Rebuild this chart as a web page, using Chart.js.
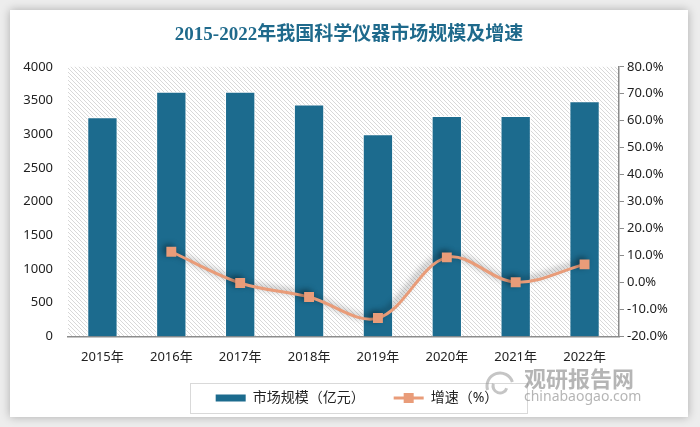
<!DOCTYPE html>
<html>
<head>
<meta charset="utf-8">
<script src="https://cdn.jsdelivr.net/npm/chart.js@4.4.1/dist/chart.umd.min.js"></script>
<style>
    html, body { margin: 0; padding: 0; background: #ededed; }
    body { width: 700px; height: 427px; position: relative; overflow: hidden; }
    #card {
        position: absolute; left: 10px; top: 10px; width: 678px; height: 407px;
        background: #fff; box-shadow: 0 0 9px rgba(0,0,0,0.28);
    }
    canvas { display: block; }
</style>
</head>
<body>
<div id="card"><canvas id="chart-size" width="678" height="407"></canvas></div>
<script>
//************ Data */
const years = ['2015年', '2016年', '2017年', '2018年', '2019年', '2020年', '2021年', '2022年'];
const marketSize = [3250, 3630, 3630, 3440, 3000, 3270, 3270, 3490];   // 亿元
const growth = [null, 11.4, -0.2, -5.4, -13.2, 9.3, 0.1, 6.7];          // %

const blue = '#1c6b8e';
const orange = '#e99c79';
const baseFont = "'Noto Sans', 'Noto Sans CJK SC', sans-serif";
const ICON_GAP = 16;   // blank space before each legend icon

// -- hatch pattern for plot area
function hatchPattern(ctx) {
    const p = document.createElement('canvas');
    p.width = 4; p.height = 4;
    const pc = p.getContext('2d');
    pc.strokeStyle = '#d8d8d8';
    pc.lineWidth = 1;
    pc.beginPath();
    pc.moveTo(-1, -1); pc.lineTo(5, 5);
    pc.moveTo(-1, 3); pc.lineTo(1, 5);
    pc.moveTo(3, -1); pc.lineTo(5, 1);
    pc.stroke();
    return ctx.createPattern(p, 'repeat');
}

const decoPlugin = {
    id: 'deco',
    beforeDraw(chart) {
        const { ctx, chartArea: a } = chart;
        ctx.save();
        ctx.fillStyle = hatchPattern(ctx);
        ctx.fillRect(a.left, a.top, a.right - a.left, a.bottom - a.top);
        ctx.restore();
    },
    beforeDatasetDraw(chart, args) {
        if (args.index === 0) {
            const ctx = chart.ctx;
            ctx.save();
            ctx.shadowColor = 'rgba(0,0,0,0.4)';
            ctx.shadowBlur = 6;
            ctx.shadowOffsetX = -3;
            ctx.shadowOffsetY = -2;
        }
    },
    afterDatasetDraw(chart, args) {
        if (args.index === 0) chart.ctx.restore();
    },
    afterDraw(chart) {
        const ctx = chart.ctx;
        const lg = chart.legend;
        const boxes = lg.legendHitBoxes;
        if (boxes && boxes.length) {
            // legend frame
            const first = boxes[0], last = boxes[boxes.length - 1];
            const x0 = first.left + ICON_GAP - 26, x1 = last.left + last.width + 28;
            const cy = first.top + first.height / 2;
            ctx.save();
            ctx.strokeStyle = '#d9d9d9';
            ctx.lineWidth = 1;
            ctx.strokeRect(Math.round(x0) + 0.5, Math.round(cy - 15) + 0.5, Math.round(x1 - x0), 30);
            // icons
            lg.legendItems.forEach((it, i) => {
                const b = boxes[i];
                const x = b.left + ICON_GAP;
                if (chart.data.datasets[it.datasetIndex].type === 'line') {
                    ctx.strokeStyle = orange;
                    ctx.lineWidth = 3;
                    ctx.beginPath();
                    ctx.moveTo(x, cy); ctx.lineTo(x + 30, cy);
                    ctx.stroke();
                    ctx.fillStyle = orange;
                    ctx.fillRect(x + 10, cy - 5, 10, 10);
                } else {
                    ctx.fillStyle = blue;
                    ctx.fillRect(x, cy - 3.5, 30, 7);
                }
            });
            ctx.restore();
        }
        // watermark
        ctx.save();
        ctx.fillStyle = 'rgba(120,120,120,0.55)';
        ctx.font = "bold 22px 'Noto Sans CJK SC', sans-serif";
        ctx.textBaseline = 'middle';
        ctx.fillText('观研报告网', 514, 369);
        ctx.font = "14px 'Noto Sans', sans-serif";
        ctx.fillText('chinabaogao.com', 514, 387);
        ctx.strokeStyle = 'rgba(140,140,140,0.5)';
        ctx.lineWidth = 3;
        ctx.beginPath(); ctx.arc(490, 376, 13, Math.PI * 0.9, Math.PI * 1.9); ctx.stroke();
        ctx.beginPath(); ctx.arc(490, 376, 7, Math.PI * 0.1, Math.PI * 1.1); ctx.stroke();
        ctx.restore();
    }
};

var config = {
    data: {
        labels: years,
        datasets: [{
            type: 'line',
            label: '增速（%）',
            data: growth,
            yAxisID: 'y1',
            borderColor: orange,
            backgroundColor: orange,
            borderWidth: 3,
            tension: 0.35,
            pointStyle: 'rect',
            pointRadius: 7,
            pointHoverRadius: 7,
            pointBackgroundColor: orange,
            pointBorderWidth: 0,
            order: 0
        }, {
            type: 'bar',
            label: '市场规模（亿元）',
            data: marketSize,
            yAxisID: 'y',
            backgroundColor: blue,
            borderColor: '#ffffff',
            borderWidth: 1,
            categoryPercentage: 1,
            barPercentage: 0.44,
            order: 1
        }]
    },
    options: {
        responsive: false,
        animation: false,
        layout: { padding: { left: 0, right: 0, top: 0, bottom: 2 } },
        scales: {
            x: {
                grid: { display: false, drawTicks: false },
                border: { display: true, color: '#8c8c8c', width: 1.5 },
                ticks: { padding: 13, color: '#222', font: { family: baseFont, size: 13 } }
            },
            y: {
                position: 'left',
                min: 0, max: 4000,
                ticks: {
                    stepSize: 500, padding: 15, color: '#222',
                    font: { family: baseFont, size: 13 },
                    callback: (v) => String(v)
                },
                grid: { display: false, drawTicks: false },
                border: { display: false },
                afterFit(scale) { scale.width = 58; }
            },
            y1: {
                position: 'right',
                min: -20, max: 80,
                ticks: {
                    stepSize: 10, padding: 3, color: '#222',
                    font: { family: baseFont, size: 13 },
                    callback: (v) => v.toFixed(1) + '%'
                },
                grid: { drawOnChartArea: false, drawTicks: true, tickLength: 5, color: '#8c8c8c' },
                border: { display: true, color: '#8c8c8c', width: 1.5 },
                afterFit(scale) { scale.width = 69; }
            }
        },
        plugins: {
            title: {
                display: true,
                text: '2015-2022年我国科学仪器市场规模及增速',
                color: '#1f6a8c',
                font: { family: "'Liberation Serif', 'Noto Sans CJK SC', serif", size: 19, weight: 'bold' },
                padding: { top: 14, bottom: 20 }
            },
            legend: {
                position: 'bottom',
                reverse: true,
                padding: 0,
                labels: {
                    boxWidth: 30 + ICON_GAP,
                    boxHeight: 7,
                    padding: 13,
                    color: '#222',
                    font: { family: baseFont, size: 14 },
                    generateLabels(chart) {
                        const items = Chart.defaults.plugins.legend.labels.generateLabels(chart);
                        items.forEach((it) => {
                            it.fillStyle = 'rgba(0,0,0,0)';
                            it.strokeStyle = 'rgba(0,0,0,0)';
                            it.lineWidth = 0;
                        });
                        return items;
                    }
                }
            },
            tooltip: { enabled: false }
        }
    },
    plugins: [decoPlugin]
};

var ctx_size = document.getElementById('chart-size').getContext('2d');
var myChart_size = new Chart(ctx_size, config);
</script>
</body>
</html>
